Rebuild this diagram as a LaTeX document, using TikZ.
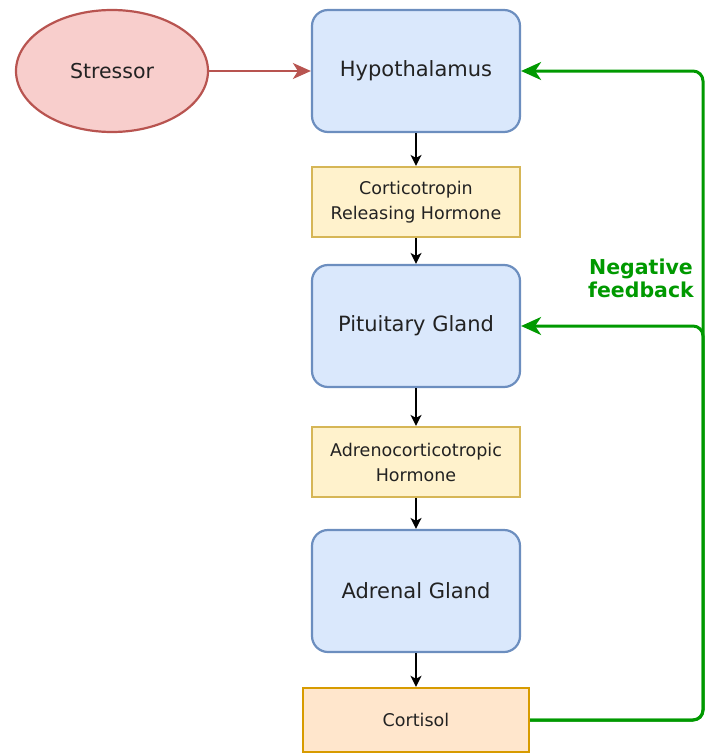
\documentclass[tikz,border=0pt]{standalone}
\usepackage{fontspec}
\setmainfont{DejaVu Sans}
\usetikzlibrary{arrows.meta,shapes.geometric}
\definecolor{bluefill}{HTML}{DAE8FC}
\definecolor{bluestroke}{HTML}{6C8EBF}
\definecolor{yelfill}{HTML}{FFF2CC}
\definecolor{yelstroke}{HTML}{D6B656}
\definecolor{redfill}{HTML}{F8CECC}
\definecolor{redstroke}{HTML}{B85450}
\definecolor{orfill}{HTML}{FFE6CC}
\definecolor{orstroke}{HTML}{D79B00}
\definecolor{fbgreen}{HTML}{009900}
\definecolor{txt}{HTML}{222222}
\tikzset{
  organ/.style={draw=bluestroke, fill=bluefill, line width=2.2pt, rounded corners=16pt,
    minimum width=208pt, minimum height=122pt, inner sep=0pt, text=txt,
    font=\fontsize{21}{24}\selectfont},
  hormone/.style={draw=yelstroke, fill=yelfill, line width=2.2pt,
    minimum width=208pt, minimum height=70pt, inner sep=0pt, text=txt, align=center,
    font=\fontsize{17.5}{25}\selectfont},
  cortbox/.style={draw=orstroke, fill=orfill, line width=2.4pt,
    minimum width=226pt, minimum height=64pt, inner sep=0pt, text=txt,
    font=\fontsize{17.5}{22}\selectfont},
  stressbox/.style={ellipse, draw=redstroke, fill=redfill, line width=2.2pt,
    minimum width=192pt, minimum height=122pt, inner sep=0pt, text=txt,
    font=\fontsize{20.5}{24}\selectfont},
  flow/.style={draw=black, line width=1.6pt, -{Stealth[length=11pt,width=11pt,inset=3pt]}},
  redflow/.style={draw=redstroke, line width=2.2pt, -{Stealth[length=18pt,width=16pt,inset=5pt]}},
  fb/.style={draw=fbgreen, line width=3pt, rounded corners=10pt, -{Stealth[length=20pt,width=18pt,inset=6pt]}},
  fblabel/.style={text=fbgreen, align=center, font=\bfseries\fontsize{20.5}{23}\selectfont}
}
\begin{document}
\begin{tikzpicture}[x=1pt,y=-1pt]
\useasboundingbox (0,0) rectangle (706,755);
\node[stressbox] (stress) at (112,71) {Stressor};
\node[organ] (hypo) at (416,71) {Hypothalamus};
\node[hormone] (crh) at (416,202) {Corticotropin\\Releasing Hormone};
\node[organ] (pit) at (416,326) {Pituitary Gland};
\node[hormone] (acth) at (416,462) {Adrenocorticotropic\\Hormone};
\node[organ] (adr) at (416,591) {Adrenal Gland};
\node[cortbox] (cort) at (416,720) {Cortisol};
\node[fblabel] (fbl) at (641,278) {Negative\\feedback};
\coordinate (cornerB) at (703,720);
\coordinate (cornerP) at (703,326);
\coordinate (cornerH) at (703,71);

\draw[redflow] (stress.east) -- (hypo.west);
\draw[flow] (hypo.south) -- (crh.north);
\draw[flow] (crh.south) -- (pit.north);
\draw[flow] (pit.south) -- (acth.north);
\draw[flow] (acth.south) -- (adr.north);
\draw[flow] (adr.south) -- (cort.north);

\draw[fb] (cort.east) -- (cornerB) -- (cornerH) -- (hypo.east);
\draw[fb] (cort.east) -- (cornerB) -- (cornerP) -- (pit.east);
\end{tikzpicture}
\end{document}
